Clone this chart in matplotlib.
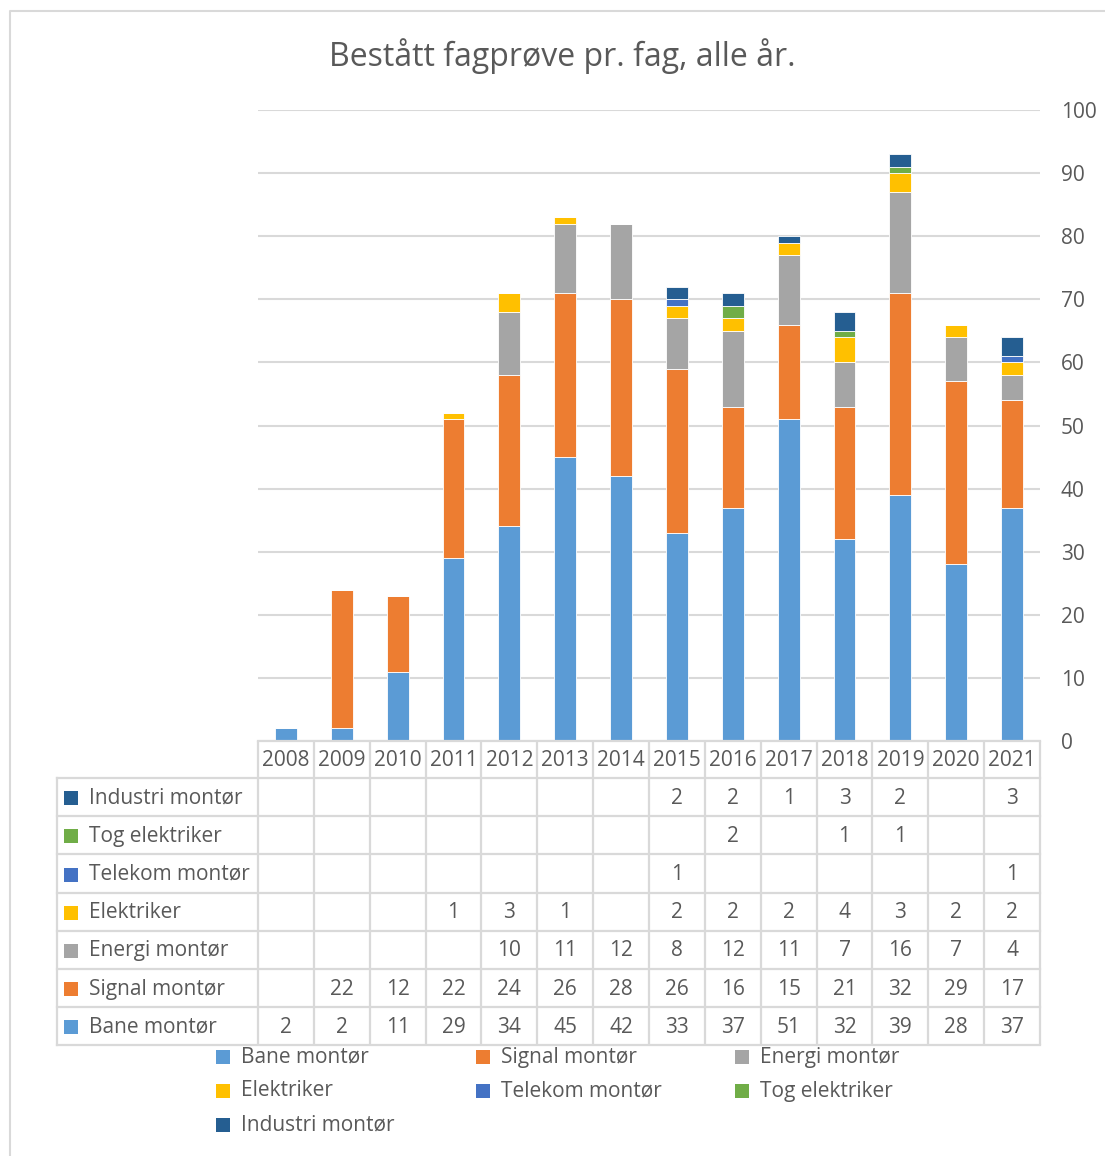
import numpy as np
import matplotlib.pyplot as plt
from matplotlib.patches import Rectangle

plt.rcParams['font.family'] = ['Open Sans', 'DejaVu Sans']

# ── data ────────────────────────────────────────────────────────────────────
years = ["2008", "2009", "2010", "2011", "2012", "2013", "2014",
         "2015", "2016", "2017", "2018", "2019", "2020", "2021"]
bane     = [2, 2, 11, 29, 34, 45, 42, 33, 37, 51, 32, 39, 28, 37]
signal   = [None, 22, 12, 22, 24, 26, 28, 26, 16, 15, 21, 32, 29, 17]
energi   = [None, None, None, None, 10, 11, 12, 8, 12, 11, 7, 16, 7, 4]
elektro  = [None, None, None, 1, 3, 1, None, 2, 2, 2, 4, 3, 2, 2]
telekom  = [None, None, None, None, None, None, None, 1, None, None, None, None, None, 1]
tog      = [None, None, None, None, None, None, None, None, 2, None, 1, 1, None, None]
industri = [None, None, None, None, None, None, None, 2, 2, 1, 3, 2, None, 3]

series_names = ["Bane montør", "Signal montør", "Energi montør", "Elektriker",
                "Telekom montør", "Tog elektriker", "Industri montør"]
series_vals = [bane, signal, energi, elektro, telekom, tog, industri]
colors = ["#5B9BD5", "#ED7D31", "#A5A5A5", "#FFC000", "#4472C4", "#70AD47", "#255E91"]

TXT = "#595959"
GRID = "#D9D9D9"
W, H = 1105, 1156

def fx(px):
    return px / W

def fy(py):
    return 1 - py / H

fig = plt.figure(figsize=(W / 100, H / 100), dpi=100)

# ── plot area (pixels) ─────────────────────────────────────────────────────
PL, PR, PT, PB = 258, 1040, 110, 741
ax = fig.add_axes([fx(PL), fy(PB), fx(PR - PL), (PB - PT) / H])

x = np.arange(len(years))
bottom = np.zeros(len(years))
for name, vals, col in zip(series_names, series_vals, colors):
    v = np.array([0 if a is None else a for a in vals], dtype=float)
    ax.bar(x, v, 0.39, bottom=bottom, color=col, edgecolor="white",
           linewidth=0.6, zorder=3)
    bottom += v

ax.set_xlim(-0.5, len(years) - 0.5)
ax.set_ylim(0, 100)
ax.set_yticks(range(0, 101, 10))
ax.yaxis.tick_right()
ax.tick_params(axis="y", length=0, pad=15, labelsize=15, labelcolor=TXT)
for lab in ax.get_yticklabels():
    lab.set_horizontalalignment("left")
ax.set_xticks([])
ax.grid(axis="y", color=GRID, linewidth=1.5, zorder=0)
for s in ax.spines.values():
    s.set_visible(False)

# ── overlay in pixel coordinates for table, legend, title, border ───────────
ov = fig.add_axes([0, 0, 1, 1], zorder=5)
ov.set_xlim(0, W)
ov.set_ylim(H, 0)
ov.axis("off")
ov.patch.set_alpha(0)

# chart border
ov.plot([10, 10, W + 5], [H + 5, 11, 11], color=GRID, lw=1.5)

ov.text(562, 56, "Bestått fagprøve pr. fag, alle år.", ha="center", va="center",
        fontsize=23, color=TXT)

# data table
TL = 57
ncol = len(years)
cw = (PR - PL) / ncol
HT, HB = 741, 778
rh = 38.2
rows = list(zip(series_names, series_vals, colors))[::-1]
TB = HB + rh * len(rows)

lw_t = 1.6
for i in range(ncol + 1):
    xx = PL + i * cw
    ov.plot([xx, xx], [HT, TB], color=GRID, lw=lw_t, solid_capstyle="butt")
ov.plot([TL, TL], [HB, TB], color=GRID, lw=lw_t)
ov.plot([PL, PR], [HT, HT], color=GRID, lw=lw_t)
for r in range(len(rows) + 1):
    yy = HB + r * rh
    ov.plot([TL, PR], [yy, yy], color=GRID, lw=lw_t)

FS = 15
for i, yr in enumerate(years):
    ov.text(PL + (i + 0.5) * cw, (HT + HB) / 2 + 1, yr, ha="center", va="center",
            fontsize=FS, color=TXT)

for r, (name, vals, col) in enumerate(rows):
    yc = HB + (r + 0.5) * rh + 1
    ov.add_patch(Rectangle((64, yc - 7), 14, 14, color=col, lw=0))
    ov.text(89, yc, name, ha="left", va="center", fontsize=FS, color=TXT)
    for i, v in enumerate(vals):
        if v is not None:
            ov.text(PL + (i + 0.5) * cw, yc, str(v), ha="center", va="center",
                    fontsize=FS, color=TXT)

# legend
leg_x = [216, 476, 735]
leg_y = [1057, 1091, 1125]
for k, (name, col) in enumerate(zip(series_names, colors)):
    lx = leg_x[k % 3]
    ly = leg_y[k // 3]
    ov.add_patch(Rectangle((lx, ly - 7), 14, 14, color=col, lw=0))
    ov.text(lx + 25, ly, name, ha="left", va="center", fontsize=FS, color=TXT)

fig.savefig("out.png", dpi=100)
